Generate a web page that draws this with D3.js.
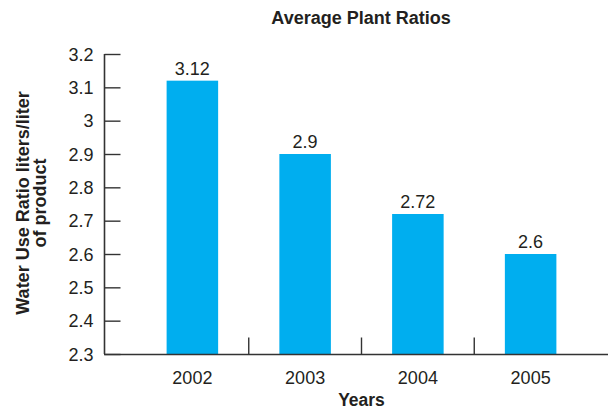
<!DOCTYPE html>
<html><head><meta charset="utf-8">
<script src="https://cdn.jsdelivr.net/npm/d3@7"></script>
<style>body{margin:0;background:#fff}svg{display:block}text{fill:#231f20}</style>
</head><body><svg width="608" height="414"></svg>
<script>
const years = ["2002","2003","2004","2005"];
const ratios = [3.12, 2.9, 2.72, 2.6];
const yTicks = [2.3,2.4,2.5,2.6,2.7,2.8,2.9,3.0,3.1,3.2];
const title = "Average Plant Ratios";
const xTitle = "Years";
const yTitle = ["Water Use Ratio liters/liter","of product"];

const svg = d3.select("svg");
const font = "'Liberation Sans',Arial,Helvetica,sans-serif";
const fs = 18;
const x = d3.scaleBand().domain(years).range([136,587]).paddingInner(0.543).paddingOuter(0.2715);
const y = d3.scaleLinear().domain([2.3,3.2]).range([354,54]);
const ink = "#333";

// bars
svg.selectAll("rect.bar").data(years).enter().append("rect")
  .attr("x", d=>x(d)).attr("width", x.bandwidth())
  .attr("y", (d,i)=>y(ratios[i])).attr("height",(d,i)=>y(2.3)-y(ratios[i]))
  .attr("fill","#00aeef");

// y axis
const ya = d3.axisRight(y).tickValues(yTicks).tickSize(16).tickFormat(d3.format("~g"));
const yg = svg.append("g").attr("transform","translate(104.5,0)").call(ya);
yg.select(".domain").attr("stroke",ink).attr("stroke-width",1.6).attr("d","M0,54V354");
yg.selectAll(".tick line").attr("stroke",ink).attr("stroke-width",1.4);
yg.selectAll(".tick text").attr("x",-11).attr("dy","0.34em").attr("text-anchor","end")
  .attr("font-family",font).attr("font-size",fs).attr("fill","#231f20");

// x axis
const xa = d3.axisBottom(x).tickSize(0).tickPadding(0);
const xg = svg.append("g").attr("transform","translate(0,354.5)").call(xa);
xg.select(".domain").attr("stroke",ink).attr("stroke-width",1.6).attr("d","M104,0H608");
xg.selectAll(".tick text").attr("dy",0).attr("y",29)
  .attr("font-family",font).attr("font-size",fs).attr("fill","#231f20");
// category separators
xg.selectAll("line.sep").data(years.slice(1)).enter().append("line")
  .attr("x1",d=>x(d)-x.step()*x.paddingInner()/2).attr("x2",d=>x(d)-x.step()*x.paddingInner()/2)
  .attr("y1",0).attr("y2",-17).attr("stroke",ink).attr("stroke-width",1.4);

// value labels
svg.selectAll("text.val").data(years).enter().append("text")
  .attr("x",d=>x(d)+x.bandwidth()/2).attr("y",(d,i)=>y(ratios[i])-6)
  .attr("text-anchor","middle").attr("font-family",font).attr("font-size",fs)
  .text((d,i)=>ratios[i]);

// titles
svg.append("text").attr("x",361).attr("y",24).attr("text-anchor","middle")
  .attr("font-family",font).attr("font-size",18).attr("font-weight","bold").text(title);
svg.append("text").attr("x",361.5).attr("y",406).attr("text-anchor","middle")
  .attr("font-family",font).attr("font-size",17.5).attr("font-weight","bold").text(xTitle);
const yt = svg.append("text").attr("transform","translate(0,203) rotate(-90)")
  .attr("text-anchor","middle").attr("font-family",font).attr("font-size",18).attr("font-weight","bold");
yTitle.forEach((t,i)=>yt.append("tspan").attr("x",0).attr("y",i===0?28.5:45.5).text(t));
</script></body></html>
